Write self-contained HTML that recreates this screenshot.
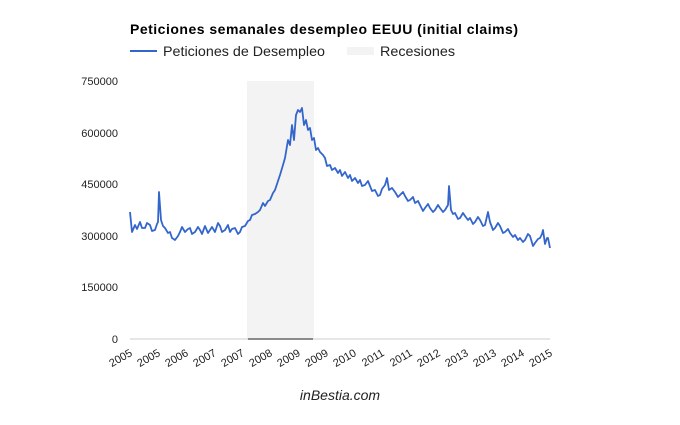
<!DOCTYPE html>
<html><head><meta charset="utf-8"><style>
body{margin:0;background:#fff;}
svg text{font-family:"Liberation Sans",Arial,sans-serif;}
</style></head><body>
<svg width="680" height="420" xmlns="http://www.w3.org/2000/svg">
<rect width="680" height="420" fill="#fff"/>
<text x="130" y="34" font-size="14" font-weight="bold" fill="#000" textLength="388" lengthAdjust="spacing">Peticiones semanales desempleo EEUU (initial claims)</text>
<line x1="130" y1="51" x2="157" y2="51" stroke="#3366cc" stroke-width="2"/>
<text x="163" y="56" font-size="14" fill="#222" textLength="162" lengthAdjust="spacingAndGlyphs">Peticiones de Desempleo</text>
<rect x="347" y="47" width="27" height="8" fill="#f3f3f3"/>
<text x="380" y="56" font-size="14" fill="#222" textLength="75" lengthAdjust="spacingAndGlyphs">Recesiones</text>
<rect x="247" y="81" width="67" height="258" fill="#f3f3f3"/>
<line x1="130" y1="339" x2="550" y2="339" stroke="#ccc" stroke-width="1"/>
<line x1="248" y1="339" x2="313" y2="339" stroke="#666" stroke-width="1.5"/>
<g font-size="11" fill="#222" text-anchor="end">
<text x="118" y="85">750000</text>
<text x="118" y="137">600000</text>
<text x="118" y="188">450000</text>
<text x="118" y="240">300000</text>
<text x="118" y="291">150000</text>
<text x="118" y="343">0</text>
</g>
<g font-size="11" fill="#222" text-anchor="end">
<text transform="translate(133,355) rotate(-30)">2005</text>
<text transform="translate(161,355) rotate(-30)">2005</text>
<text transform="translate(189,355) rotate(-30)">2006</text>
<text transform="translate(217,355) rotate(-30)">2007</text>
<text transform="translate(245,355) rotate(-30)">2007</text>
<text transform="translate(273,355) rotate(-30)">2008</text>
<text transform="translate(301,355) rotate(-30)">2009</text>
<text transform="translate(329,355) rotate(-30)">2009</text>
<text transform="translate(357,355) rotate(-30)">2010</text>
<text transform="translate(385,355) rotate(-30)">2011</text>
<text transform="translate(413,355) rotate(-30)">2011</text>
<text transform="translate(441,355) rotate(-30)">2012</text>
<text transform="translate(469,355) rotate(-30)">2013</text>
<text transform="translate(497,355) rotate(-30)">2013</text>
<text transform="translate(525,355) rotate(-30)">2014</text>
<text transform="translate(553,355) rotate(-30)">2015</text>
</g>
<polyline fill="none" stroke="#3366cc" stroke-width="1.8" stroke-linejoin="round" points="130,212 132,232 135,225 137,229 140,222 142,228 145,228 147,223 150,225 152,231 155,230 157,224 158,222 159,192 161,220 163,226 165,228 168,233 170,232 172,238 175,240 178,236 180,232 182,227 185,232 188,229 190,228 192,234 195,232 198,227 200,230 202,234 205,226 208,233 210,230 212,227 215,232 218,223 220,226 222,232 225,230 228,225 230,232 232,229 235,228 238,234 240,232 242,227 245,226 248,221 250,220 252,215 255,214 258,212 260,210 263,203 265,206 268,201 270,200 273,193 275,190 278,181 280,175 283,165 285,158 287,146 288,140 290,145 292,125 294,140 296,115 298,110 300,112 302,108 304,125 306,120 308,130 310,128 312,140 314,138 316,150 318,148 320,152 323,155 325,158 327,166 330,165 332,170 335,168 338,173 340,170 342,176 345,172 348,178 350,175 352,181 355,178 358,183 360,180 362,186 365,185 368,181 370,186 372,191 375,190 378,196 380,195 382,189 385,185 387,178 389,190 392,188 395,192 398,197 400,195 403,192 405,196 408,201 410,200 413,197 415,203 418,201 420,205 423,211 425,208 428,204 430,208 433,212 435,210 438,205 440,208 443,212 445,210 448,205 449,186 451,210 453,214 455,213 458,219 460,218 463,213 465,216 468,220 470,218 473,224 475,222 478,217 480,220 483,226 485,225 488,212 490,222 493,230 495,228 498,223 500,226 503,233 505,232 508,229 510,233 513,237 515,235 518,240 520,238 523,242 525,240 528,234 530,236 533,246 535,243 538,239 540,238 542,234 543,230 545,244 547,238 548,238 550,248"/>
<text x="340" y="400" font-size="14" font-style="italic" fill="#222" text-anchor="middle">inBestia.com</text>
</svg>
</body></html>
